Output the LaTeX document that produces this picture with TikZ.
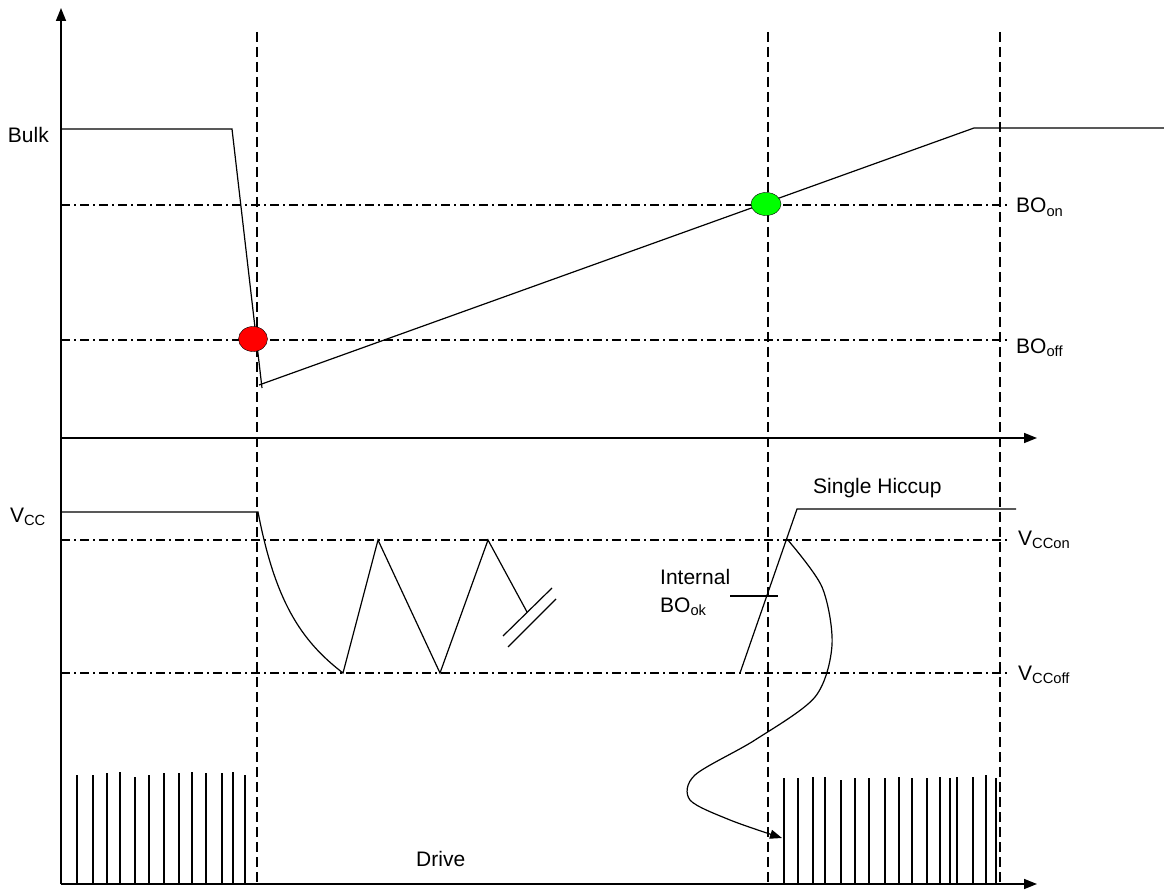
\documentclass[tikz,border=0pt]{standalone}
\usepackage{fontspec}
\setmainfont{Liberation Sans}
\usetikzlibrary{arrows.meta}

\begin{document}
\begin{tikzpicture}[x=1pt,y=-1pt,
  axisline/.style={line width=1.6pt,-{Triangle[length=13pt,width=10pt]}},
  tline/.style={line width=1.2pt,dash pattern=on 10pt off 5pt},
  thresh/.style={line width=1.2pt,dash pattern=on 9pt off 4pt on 2pt off 4pt},
  wave/.style={line width=1.2pt},
  every node/.style={font=\fontsize{21}{25}\selectfont,inner sep=0pt}]
\useasboundingbox (0,0) rectangle (1164,890);

% time markers and thresholds
\foreach \x in {257,768,1000}
  \draw[tline] (\x,32) -- (\x,884);
\foreach \y in {205,340,540,673}
  \draw[thresh] (61,\y) -- (1008,\y);

% axes
\draw[axisline] (61,884) -- (61,8);
\draw[axisline] (61,438) -- (1037,438);
\draw[axisline] (61,884) -- (1037,884);

% bulk
\draw[wave] (61,129) -- (232,129) -- (262,388);
\draw[wave] (259,385) -- (974,128) -- (1164,128);
\draw[fill=red] (253,339) ellipse [x radius=14.5,y radius=12.5];
\draw[fill=green] (766,204) ellipse [x radius=15,y radius=11.5];

% vcc
\draw[wave] (61,512) -- (258,512) .. controls (275,600) and (300,640) .. (343,673)
  -- (378,540) -- (440,673) -- (488,540) -- (527,612);
\draw[wave] (503,636) -- (552,588);
\draw[wave] (508,647) -- (556,599);

% single hiccup
\draw[wave] (740,673) -- (797,509) -- (1016,509);
\draw[wave] (730,596) -- (778,596);
\coordinate (hiccup) at (787,539);
\coordinate (restart) at (782,838);
\draw[wave,-{Triangle[length=12pt,width=9pt]}] plot[smooth] coordinates
  {(hiccup) (822,587) (832,645) (815,697) (755,740) (695,775) (690,800) (730,820) (restart)};

% drive pulses
\foreach \x/\t in {77/775,93/775,107/773,120/772,135/777,149/775,164/773,179/773,
    192/772,206/773,222/773,233/772,245/775}
  \draw[wave] (\x,884) -- (\x,\t);
\foreach \x/\t in {784/778,798/778,813/777,825/777,841/780,855/778,869/778,885/778,
    899/777,912/778,927/778,940/777,950/778,957/777,973/777,986/775,996/778}
  \draw[wave] (\x,884) -- (\x,\t);

% labels
\node[anchor=base east] (bulk) at (49,143) {Bulk};
\node[anchor=base east] (vcc) at (46,522) {V\textsubscript{CC}};
\node[anchor=base west] (boon) at (1016,213) {BO\textsubscript{on}};
\node[anchor=base west] (booff) at (1016,353) {BO\textsubscript{off}};
\node[anchor=base west] (vccon) at (1018,545) {V\textsubscript{CCon}};
\node[anchor=base west] (vccoff) at (1018,680) {V\textsubscript{CCoff}};
\node[anchor=base west] (hic) at (813,493) {Single Hiccup};
\node[anchor=base west] (intl) at (660,584) {Internal};
\node[anchor=base west] (book) at (660,612) {BO\textsubscript{ok}};
\node[anchor=base west] (drive) at (416,866) {Drive};
\end{tikzpicture}
\end{document}
